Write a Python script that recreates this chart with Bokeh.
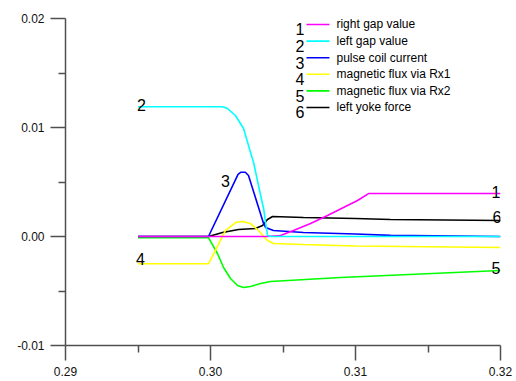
from bokeh.plotting import figure
from bokeh.models import Range1d, FixedTicker, PrintfTickFormatter
from bokeh.core.properties import value
from bokeh.embed import file_html
from bokeh.resources import INLINE

# ---- data ----
# 1: right gap value
t1 = [0.2950, 0.3039, 0.30483, 0.30572, 0.30690, 0.30807, 0.30917, 0.31014, 0.31090, 0.3200]
v1 = [0.0, 0.0, 0.00009, 0.00055, 0.00119, 0.00193, 0.00266, 0.0033, 0.00394, 0.00394]
# 2: left gap value
t2 = [0.2950, 0.3007, 0.3009, 0.30117, 0.30172, 0.30228, 0.30262, 0.30297, 0.30331, 0.30366, 0.30393, 0.3042, 0.3200]
v2 = [0.0119, 0.0119, 0.01188, 0.01174, 0.0111, 0.00991, 0.00835, 0.00679, 0.00468, 0.00257, 0.0001, 0.0, 0.0]
# 3: pulse coil current
t3 = [0.2950, 0.29986, 0.3019, 0.3021, 0.3024, 0.30262, 0.30366, 0.3038, 0.30434, 0.30641, 0.3100, 0.31241, 0.3200]
v3 = [0.0, 0.0, 0.0057, 0.0059, 0.0059, 0.0056, 0.0012, 0.00083, 0.00055, 0.00037, 0.00023, 0.0001, 0.0]
# 4: magnetic flux via Rx1
t4 = [0.2950, 0.29986, 0.30034, 0.30103, 0.30172, 0.30221, 0.30276, 0.30331, 0.30393, 0.30434, 0.30641, 0.3100, 0.3200]
v4 = [-0.0025, -0.0025, -0.00128, 0.00055, 0.00128, 0.00138, 0.00119, 0.00055, -0.00037, -0.00064, -0.00073, -0.00087, -0.00101]
# 5: magnetic flux via Rx2
t5 = [0.2950, 0.29986, 0.30048, 0.3009, 0.30138, 0.30186, 0.30228, 0.30276, 0.30345, 0.30414, 0.30897, 0.3200]
v5 = [-0.0001, -0.0001, -0.00156, -0.00284, -0.00385, -0.0045, -0.00468, -0.00459, -0.00431, -0.00413, -0.00376, -0.00312]
# 6: left yoke force
t6 = [0.2950, 0.29986, 0.30083, 0.30193, 0.3031, 0.30359, 0.30393, 0.30428, 0.30641, 0.3100, 0.31241, 0.3200]
v6 = [0.0, 0.0, 0.00037, 0.00064, 0.00073, 0.00101, 0.00156, 0.00183, 0.00174, 0.00165, 0.00156, 0.00147]

numbers = ["1", "2", "3", "4", "5", "6"]
names = ["right gap value", "left gap value", "pulse coil current",
         "magnetic flux via Rx1", "magnetic flux via Rx2", "left yoke force"]
colors = ["#FF00FF", "#00FFFF", "#0000FF", "#FFFF00", "#00FF00", "#000000"]

x_major = [0.29, 0.30, 0.31, 0.32]
x_minor = [0.295, 0.305, 0.315]
y_major = [-0.01, 0.0, 0.01, 0.02]
y_minor = [-0.005, 0.005, 0.015]

# ---- figure ----
p = figure(width=516, height=381, output_backend="svg", toolbar_location=None,
           x_range=Range1d(0.29, 0.32), y_range=Range1d(-0.01, 0.02),
           min_border_left=65, min_border_right=16, min_border_top=18, min_border_bottom=36)
p.outline_line_color = None
p.xgrid.visible = False
p.ygrid.visible = False

p.xaxis.ticker = FixedTicker(ticks=x_major, minor_ticks=x_minor)
p.yaxis.ticker = FixedTicker(ticks=y_major, minor_ticks=y_minor)
p.axis.formatter = PrintfTickFormatter(format="%.2f")
p.axis.axis_line_color = "#505050"
p.axis.axis_line_width = 1.5
p.axis.major_tick_line_color = "#505050"
p.axis.minor_tick_line_color = "#505050"
p.axis.major_tick_line_width = 1.5
p.axis.minor_tick_line_width = 1.5
p.axis.major_tick_out = 15
p.axis.major_tick_in = 0
p.axis.minor_tick_out = 7
p.axis.minor_tick_in = 0
p.axis.major_label_text_font_size = "12px"
p.axis.major_label_text_color = "#111111"
p.axis.major_label_standoff = 6

series = [(t1, v1), (t2, v2), (t3, v3), (t4, v4), (t5, v5), (t6, v6)]
draw_order = [5, 4, 3, 2, 0, 1]
for i in draw_order:
    t, v = series[i]
    p.line(t, v, line_color=colors[i], line_width=1.6)

# pixel -> data conversion (frame is 435 x 327 px)
dpx = 0.03 / 435.0
dpy = 0.03 / 327.0

# ---- curve number labels (offsets in px converted to data units; +dy = up) ----
ipk = v3.index(max(v3))
lab_specs = [  # text, x, y, align, dx, dy
    ("2", t2[0], v2[0], "left", -1, 2),
    ("4", t4[0], v4[0], "left", -2, 5),
    ("3", t3[ipk], v3[ipk], "right", -11, -9),
    ("1", t1[-1], v1[-1], "right", 0, 2),
    ("6", t6[-1], v6[-1], "right", 1, 3),
    ("5", t5[-1], v5[-1], "right", 0, 3),
]
for txt, x, y, al, dx, dy in lab_specs:
    p.text(x=[x + dx * dpx], y=[y + dy * dpy], text=[txt], text_align=al,
           text_baseline="alphabetic", text_font_size=value("16px"), text_color="black")

# ---- custom legend (top right) ----
leg_x = 0.30648
leg_y = 0.01945
row_h = 16.6
row_ys = [leg_y - i * row_h * dpy for i in range(6)]
for i in range(6):
    p.line([leg_x + 2 * dpx, leg_x + 25 * dpx], [row_ys[i], row_ys[i]],
           line_color=colors[i], line_width=1.6)
p.text(x=[leg_x] * 6, y=[ry - 5 * dpy for ry in row_ys], text=numbers,
       text_align="right", text_baseline="alphabetic",
       text_font_size=value("16px"), text_color="black")
p.text(x=[leg_x + 32 * dpx] * 6, y=row_ys, text=names,
       text_align="left", text_baseline="alphabetic",
       text_font_size=value("12px"), text_color="black")

open("out.html", "w").write(file_html(p, INLINE))
